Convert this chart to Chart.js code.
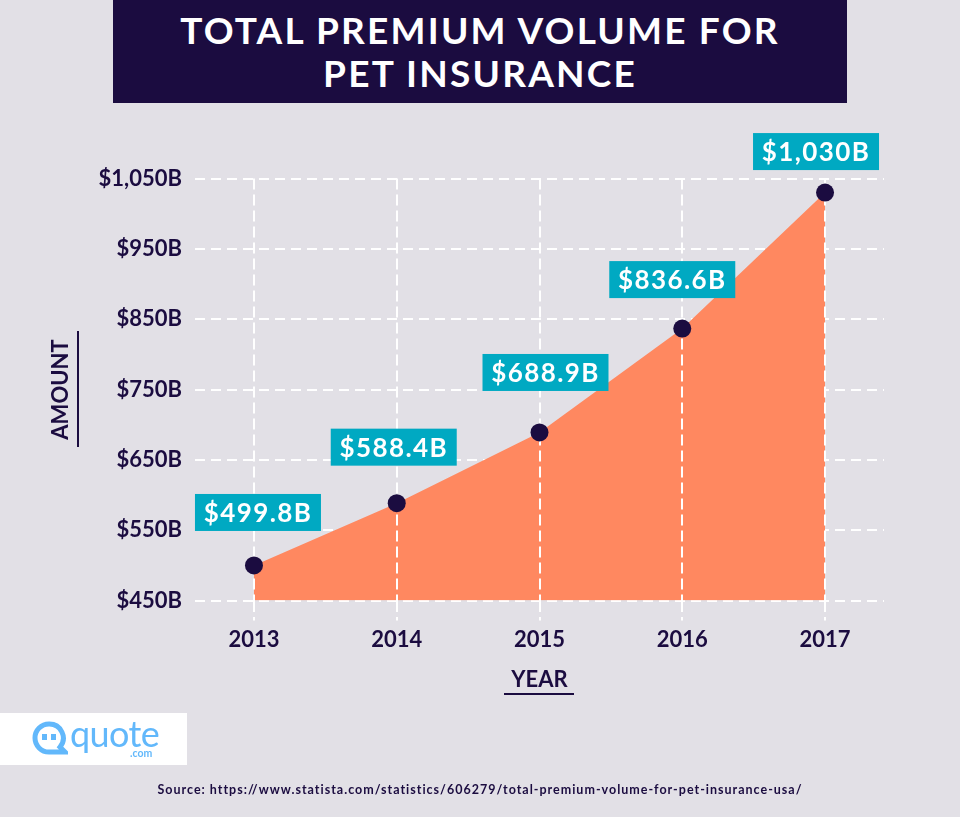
<!DOCTYPE html>
<html>
<head>
<meta charset="utf-8">
<title>Total Premium Volume for Pet Insurance</title>
<script src="https://cdn.jsdelivr.net/npm/chart.js@4/dist/chart.umd.min.js"></script>
<style>
  html, body { margin: 0; padding: 0; background: #e2e0e6; }
  #wrap { position: relative; width: 960px; height: 817px; overflow: hidden; background: #e2e0e6; font-family: Lato, sans-serif; color: #1b0c40; }
  #chart { position: absolute; left: 0; top: 0; }
  #title { position: absolute; left: 113px; top: 0; width: 734px; height: 103px; background: #1b0c40; color: #fff; text-align: center; font-size: 37px; line-height: 43px; letter-spacing: 2.2px; padding-top: 8px; box-sizing: border-box; font-weight: 700; }
  .rule { position: absolute; background: #1b0c40; }
  #logo { position: absolute; left: 0; top: 713px; width: 187px; height: 52px; background: #fff; color: #62b8fb; }
  #logo svg { position: absolute; left: 32px; top: 8px; }
  #logo .name { position: absolute; left: 70px; top: -3px; font-size: 36px; line-height: 46px; letter-spacing: -0.6px; }
  #logo .dom { position: absolute; left: 130px; top: 33px; font-size: 10.5px; line-height: 14px; font-weight: 700; }
  #source { position: absolute; left: 0; width: 960px; top: 782px; text-align: center; font-size: 12.5px; line-height: 16px; letter-spacing: 1px; font-weight: 700; color: #1b0c40; }
</style>
</head>
<body>
<div id="wrap">
  <canvas id="chart" width="960" height="817"></canvas>
  <div id="title">TOTAL PREMIUM VOLUME FOR<br>PET INSURANCE</div>
  <div class="rule" style="left:77px;top:331px;width:2px;height:116px"></div>
  <div class="rule" style="left:504px;top:693px;width:70px;height:2px"></div>
  <div id="logo">
    <svg width="36" height="36" viewBox="0 0 36 36">
      <path d="M17 3a14 14 0 1 0 0 28h16l-5-5a14 14 0 0 0-11-23z" fill="none" stroke="#62b8fb" stroke-width="5"/>
      <rect x="10" y="13" width="5" height="6" fill="#62b8fb"/>
      <rect x="19" y="13" width="5" height="6" fill="#62b8fb"/>
    </svg>
    <span class="name">quote</span>
    <span class="dom">.com</span>
  </div>
  <div id="source">Source: https://www.statista.com/statistics/606279/total-premium-volume-for-pet-insurance-usa/</div>
</div>
<script>
var years = [2013, 2014, 2015, 2016, 2017];
var premiumVolume = [499.8, 588.4, 688.9, 836.6, 1030];
var valueLabels = ["$499.8B", "$588.4B", "$688.9B", "$836.6B", "$1,030B"];
var yTickValues = [450, 550, 650, 750, 850, 950, 1050];

// where each teal box sits relative to its point
var boxOffsetX = [4, -3, 6, -10, -9];
var boxOffsetY = [-53, -56, -60, -49, -41];

var navy = "#1b0c40";
var points = years.map(function(year, i){
    return {x: year, y: premiumVolume[i]};
});

//teal value boxes, and the points again so they stay above the vertical grid
var valueBoxes = {
    id: "valueBoxes",
    afterDraw: function(chart){
        var ctx = chart.ctx;
        var meta = chart.getDatasetMeta(0);
        meta.data.forEach(function(point){
            ctx.save();
            ctx.beginPath();
            ctx.arc(point.x, point.y, 9, 0, Math.PI * 2);
            ctx.fillStyle = navy;
            ctx.fill();
            ctx.restore();
        });
        meta.data.forEach(function(point, i){
            var cx = point.x + boxOffsetX[i];
            var cy = point.y + boxOffsetY[i];
            ctx.save();
            ctx.fillStyle = "#00a9c2";
            ctx.fillRect(cx - 63, cy - 18.5, 126, 37);
            ctx.fillStyle = "#ffffff";
            ctx.font = "700 26px Lato";
            ctx.letterSpacing = "1.4px";
            ctx.textAlign = "center";
            ctx.textBaseline = "middle";
            ctx.fillText(valueLabels[i], cx, cy + 1);
            ctx.restore();
        });
    }
};

var premiumChart = new Chart(document.getElementById("chart"), {
    type: "line",
    data: {
        datasets: [{
            data: points,
            fill: "origin",
            backgroundColor: "#ff8860",
            borderWidth: 0,
            tension: 0,
            pointRadius: 0
        }]
    },
    options: {
        responsive: false,
        animation: false,
        layout: {padding: {left: 48, top: 178.5, right: 76, bottom: 124}},
        plugins: {legend: {display: false}, tooltip: {enabled: false}},
        scales: {
            x: {
                type: "linear",
                min: 2012.587,
                max: 2017.413,
                afterBuildTicks: function(axis){
                    axis.ticks = years.map(function(year){ return {value: year}; });
                },
                afterFit: function(axis){ axis.height = 92.5; },
                grid: {color: "#ffffff", lineWidth: 2, z: 1, tickLength: 20, tickColor: "#ffffff", tickBorderDash: [11, 5]},
                border: {display: false, dash: [11, 5]},
                ticks: {
                    color: navy,
                    font: {family: "Lato", size: 22, weight: "700"},
                    padding: 6,
                    maxRotation: 0,
                    callback: function(value){ return String(value); }
                },
                title: {display: true, text: "YEAR", color: navy, font: {family: "Lato", size: 22, weight: "700"}, padding: {top: 8, bottom: 0}}
            },
            y: {
                min: 450,
                max: 1050,
                afterBuildTicks: function(axis){
                    axis.ticks = yTickValues.map(function(v){ return {value: v}; });
                },
                afterFit: function(axis){ axis.width = 147; },
                grid: {color: "#ffffff", lineWidth: 2, drawTicks: false},
                border: {display: false, dash: [10, 6]},
                ticks: {
                    color: navy,
                    font: {family: "Lato", size: 22, weight: "700"},
                    padding: 13,
                    callback: function(value){ return "$" + value.toLocaleString("en-US") + "B"; }
                },
                title: {display: true, text: "AMOUNT", color: navy, font: {family: "Lato", size: 22, weight: "700"}, padding: {top: 0, bottom: 0}}
            }
        }
    },
    plugins: [valueBoxes]
});
</script>
</body>
</html>
